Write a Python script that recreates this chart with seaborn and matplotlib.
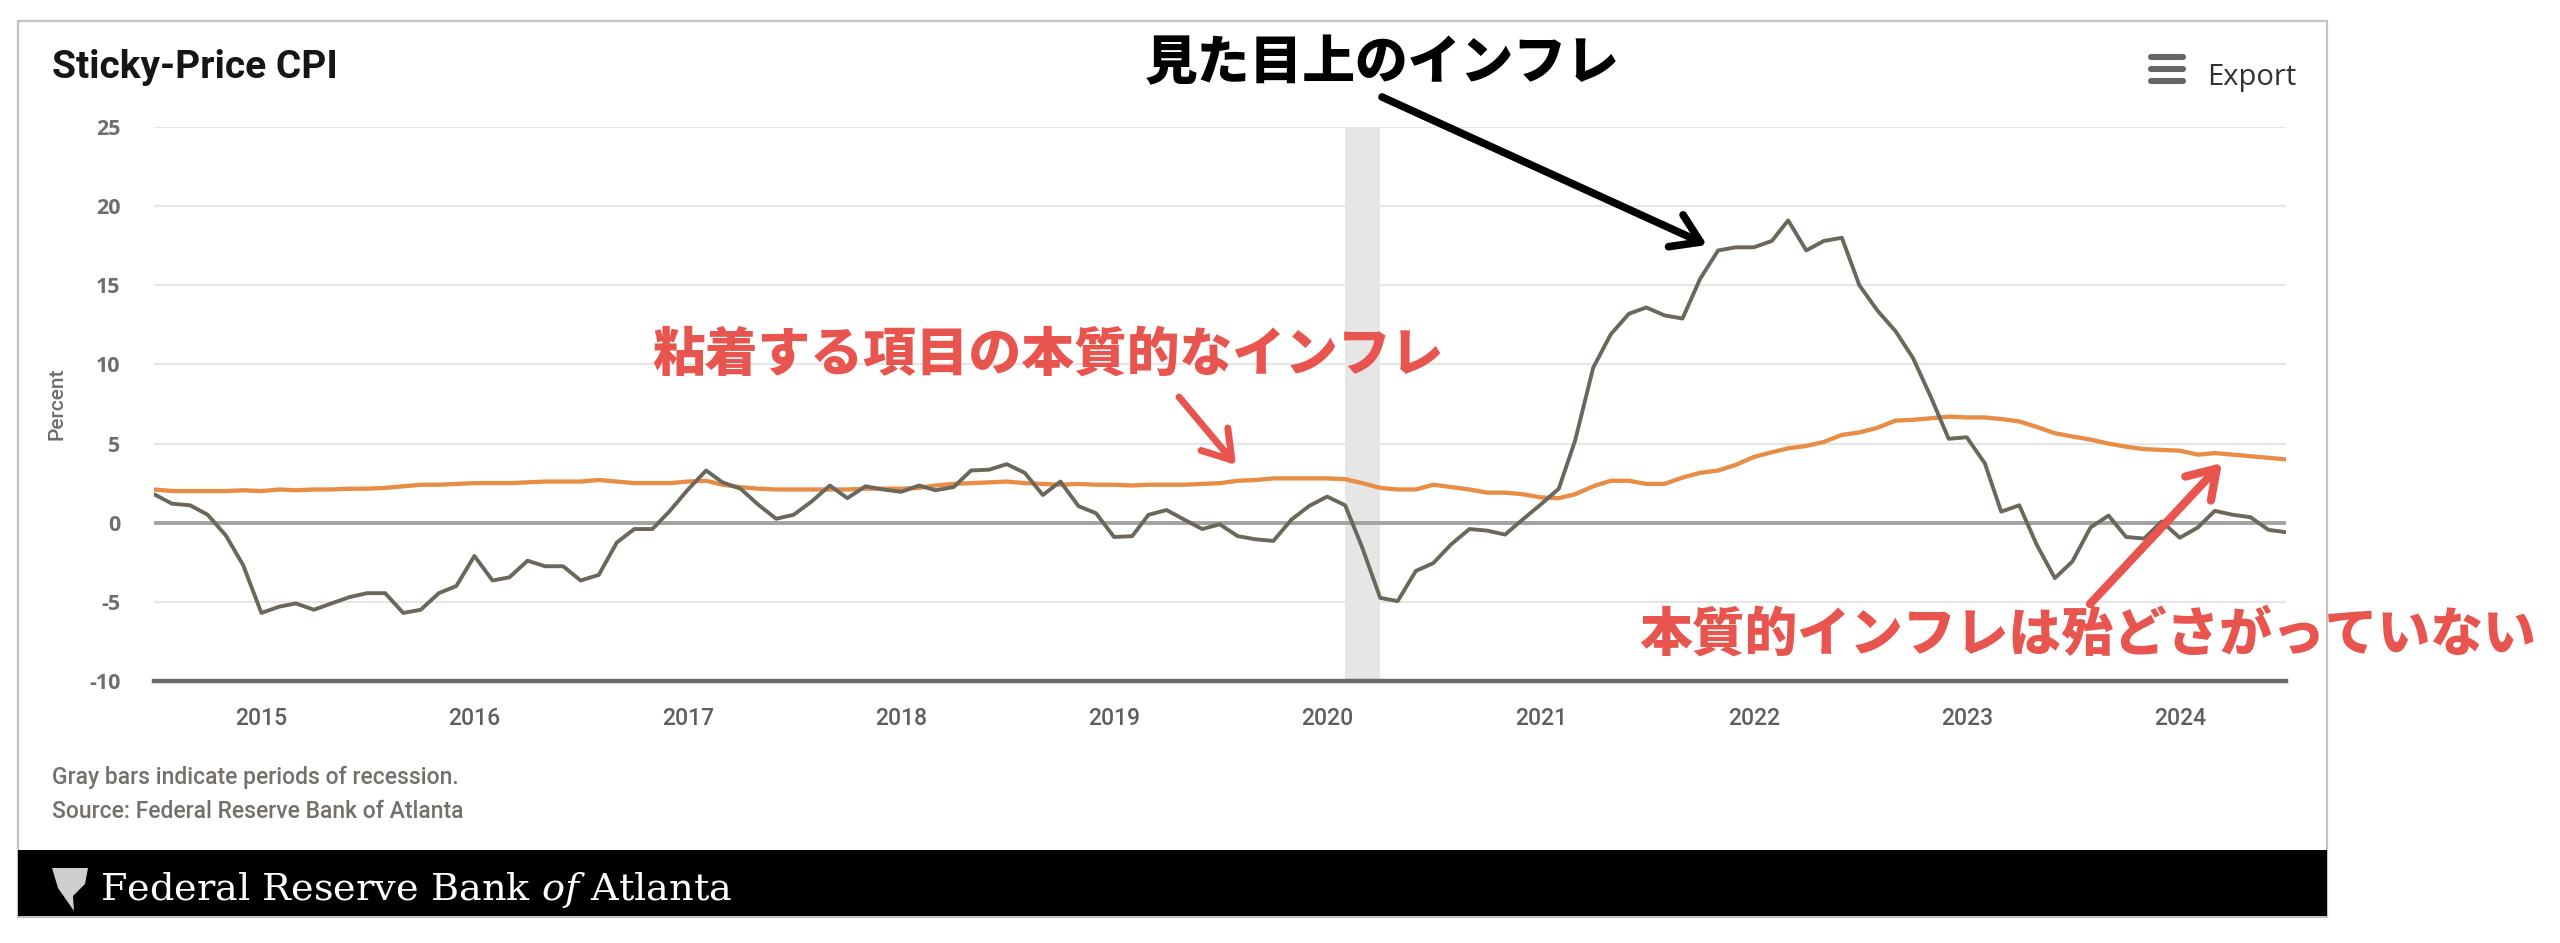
import numpy as np
import pandas as pd
import matplotlib
matplotlib.use("Agg")
import matplotlib.pyplot as plt
from matplotlib.patches import Rectangle, Polygon, FancyArrowPatch
from matplotlib.lines import Line2D
import seaborn as sns

# monthly values, Jul 2014 - Jul 2024
dates = pd.date_range("2014-07-01", "2024-07-01", freq="MS")

flexible = [
    1.8, 1.2, 1.1, 0.5, -0.8, -2.7,                                              # 2014
    -5.7, -5.3, -5.1, -5.5, -5.1, -4.7, -4.45, -4.45, -5.7, -5.5, -4.45, -4.0,    # 2015
    -2.1, -3.65, -3.45, -2.4, -2.75, -2.75, -3.65, -3.3, -1.25, -0.4, -0.4, 0.75, # 2016
    2.1, 3.3, 2.55, 2.15, 1.15, 0.25, 0.5, 1.35, 2.35, 1.55, 2.3, 2.1,            # 2017
    1.95, 2.35, 2.05, 2.25, 3.3, 3.35, 3.7, 3.15, 1.75, 2.6, 1.05, 0.6,           # 2018
    -0.9, -0.85, 0.5, 0.8, 0.2, -0.4, -0.1, -0.85, -1.05, -1.15, 0.2, 1.05,       # 2019
    1.65, 1.1, -1.55, -4.75, -4.95, -3.05, -2.55, -1.35, -0.4, -0.5, -0.75, 0.2,  # 2020
    1.15, 2.15, 5.2, 9.8, 11.9, 13.2, 13.6, 13.1, 12.9, 15.4, 17.2, 17.4,         # 2021
    17.4, 17.8, 19.1, 17.2, 17.8, 18.0, 15.0, 13.4, 12.1, 10.4, 7.9, 5.3,         # 2022
    5.4, 3.75, 0.7, 1.1, -1.4, -3.5, -2.45, -0.3, 0.45, -0.9, -1.0, 0.08,         # 2023
    -0.95, -0.3, 0.75, 0.5, 0.35, -0.45, -0.6,                                    # 2024
]

sticky = [
    2.1, 2.0, 2.0, 2.0, 2.0, 2.05,                                   # 2014
    2.0, 2.1, 2.05, 2.1, 2.1, 2.15, 2.15, 2.2, 2.3, 2.4, 2.4, 2.45,  # 2015
    2.5, 2.5, 2.5, 2.55, 2.6, 2.6, 2.6, 2.7, 2.6, 2.5, 2.5, 2.5,     # 2016
    2.6, 2.65, 2.4, 2.25, 2.15, 2.1, 2.1, 2.1, 2.1, 2.1, 2.15, 2.15, # 2017
    2.15, 2.2, 2.35, 2.45, 2.5, 2.55, 2.6, 2.5, 2.45, 2.4, 2.45, 2.4, # 2018
    2.4, 2.35, 2.4, 2.4, 2.4, 2.45, 2.5, 2.65, 2.7, 2.8, 2.8, 2.8,   # 2019
    2.8, 2.75, 2.5, 2.2, 2.1, 2.1, 2.4, 2.25, 2.1, 1.9, 1.9, 1.8,    # 2020
    1.6, 1.55, 1.8, 2.3, 2.65, 2.65, 2.45, 2.45, 2.85, 3.15, 3.3, 3.65, # 2021
    4.15, 4.45, 4.7, 4.85, 5.1, 5.55, 5.7, 6.0, 6.45, 6.5, 6.6, 6.7, # 2022
    6.65, 6.65, 6.55, 6.4, 6.05, 5.65, 5.45, 5.25, 5.0, 4.8, 4.65, 4.6, # 2023
    4.55, 4.3, 4.4, 4.3, 4.2, 4.1, 4.0,                              # 2024
]

years = list(range(2015, 2025))
y_ticks = list(range(-10, 30, 5))
recession = ("2020-02-01", "2020-04-01")

df = pd.DataFrame({"date": dates, "flexible": flexible, "sticky": sticky})

W, H = 2560, 943
def fx(px):
    return px / W
def fy(py):
    return 1 - py / H

sns.set_style("white")
plt.rcParams["font.family"] = ["Roboto", "Noto Sans CJK JP", "DejaVu Sans"]
plt.rcParams["mathtext.fontset"] = "custom"
plt.rcParams["mathtext.rm"] = "DejaVu Serif"
plt.rcParams["mathtext.it"] = "DejaVu Serif:italic"

fig = plt.figure(figsize=(W / 100, H / 100), dpi=100)
ax = fig.add_axes([fx(154), fy(681), fx(2286) - fx(154), fy(127) - fy(681)])

ax.axvspan(pd.Timestamp(recession[0]), pd.Timestamp(recession[1]), color="#e6e6e6", lw=0, zorder=0.9)
ax.axhline(0, color="#a3a3a3", lw=2.8, zorder=1.5)
sns.lineplot(data=df, x="date", y="sticky", color="#e88d45", lw=3.1, ax=ax, zorder=3)
sns.lineplot(data=df, x="date", y="flexible", color="#6b675c", lw=2.8, ax=ax, zorder=4)

ax.set_xlim(dates[0], dates[-1])
ax.set_ylim(-10, 25)
ax.set_yticks(y_ticks)
ax.set_yticklabels([str(v) for v in y_ticks], fontsize=15.5, color="#6e6e6e",
                   fontfamily="Open Sans", fontweight="bold")
ax.set_xticks([pd.Timestamp(f"{y}-01-01") for y in years])
ax.set_xticklabels([str(y) for y in years], fontsize=16.5, color="#5e5e5e", fontweight="medium")
ax.grid(axis="y", color="#e6e6e6", lw=1.5)
ax.grid(axis="x", visible=False)
ax.set_axisbelow(True)
ax.tick_params(axis="y", length=0, pad=24)
ax.tick_params(axis="x", length=14, width=1.3, color="#ccd6eb", direction="out", pad=5)
for s in ["left", "right", "top"]:
    ax.spines[s].set_visible(False)
ax.spines["bottom"].set_color("#6a6a6a")
ax.spines["bottom"].set_linewidth(3.2)
ax.set_xlabel("")
ax.set_ylabel("Percent", fontsize=15, color="#6e6e6e", fontweight="medium")
ax.yaxis.set_label_coords((66 - 154) / (2286 - 154), 0.5)

# card frame and footer band
fig.patches.append(Rectangle((fx(18), fy(917)), fx(2327) - fx(18), fy(21) - fy(917),
                             transform=fig.transFigure, fill=False, edgecolor="#c2c2c2", lw=1.6))
fig.patches.append(Rectangle((fx(18), fy(916)), fx(2327) - fx(18), fy(850) - fy(916),
                             transform=fig.transFigure, facecolor="black", edgecolor="none"))
fig.patches.append(Polygon([(fx(52), fy(868)), (fx(88), fy(868)), (fx(85), fy(884)),
                            (fx(73), fy(896)), (fx(74), fy(911)), (fx(58), fy(888))],
                           closed=True, transform=fig.transFigure, facecolor="#cfcfcf", edgecolor="none"))
fig.text(fx(100), fy(890), r"Federal Reserve Bank $\mathit{of}$ Atlanta", fontsize=27.5,
         color="white", fontfamily="DejaVu Serif", va="center", ha="left")

# header
fig.text(fx(52), fy(78), "Sticky-Price CPI", fontsize=28, fontweight="bold", color="#161616",
         ha="left", va="baseline")
for yy in [57, 69, 81]:
    fig.add_artist(Line2D([fx(2151), fx(2183)], [fy(yy), fy(yy)], transform=fig.transFigure,
                          color="#666666", lw=4.4, solid_capstyle="round"))
fig.text(fx(2207), fy(85), "Export", fontsize=21, color="#333333", fontfamily="Open Sans",
         ha="left", va="baseline")

# notes
note_color = "#75706a"
fig.text(fx(52), fy(777), "Gray bars indicate periods of recession.", fontsize=16.5,
         color=note_color, fontweight="medium", ha="left", va="center")
fig.text(fx(52), fy(812), "Source: Federal Reserve Bank of Atlanta", fontsize=16.5,
         color=note_color, fontweight="medium", ha="left", va="center")

# annotations
red = "#e8554f"
jp = ["Noto Sans CJK JP", "DejaVu Sans"]
fig.text(fx(1382), fy(64), "見た目上のインフレ", fontsize=38, fontweight="heavy", color="black",
         family=jp, ha="center", va="center")
fig.text(fx(1048), fy(355), "粘着する項目の本質的なインフレ", fontsize=38, fontweight="heavy", color=red,
         family=jp, ha="center", va="center")
fig.text(fx(2088), fy(635), "本質的インフレは殆どさがっていない", fontsize=38, fontweight="heavy", color=red,
         family=jp, ha="center", va="center")

arrows = [
    ((1382, 97), (1707, 245), "black", 5.5),
    ((1179, 397), (1236, 465), red, 5.0),
    ((2090, 604), (2222, 463), red, 6.0),
]
for (x0, y0), (x1, y1), c, lw in arrows:
    fig.add_artist(FancyArrowPatch((fx(x0), fy(y0)), (fx(x1), fy(y1)), transform=fig.transFigure,
                                   arrowstyle="->,head_length=0.7,head_width=0.45", mutation_scale=28,
                                   color=c, lw=lw, capstyle="round", joinstyle="round", shrinkA=0, shrinkB=0))

fig.savefig("out.png", dpi=100, facecolor="white")
